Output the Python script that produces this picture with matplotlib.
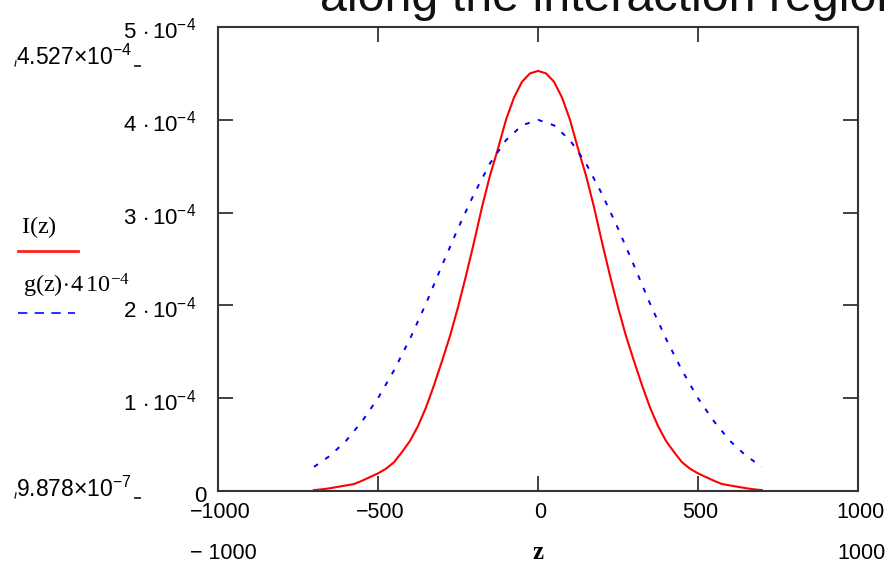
import matplotlib
matplotlib.use("Agg")
import matplotlib.pyplot as plt
from matplotlib.lines import Line2D

# ---------------- data ----------------
z_red = [-700, -675, -650, -625, -600, -575, -550, -525, -500, -475, -450, -425, -400, -375,
         -350, -325, -300, -275, -250, -225, -200, -175, -150, -125, -100, -75, -50, -25, 0,
         25, 50, 75, 100, 125, 150, 175, 200, 225, 250, 275, 300, 325, 350, 375, 400, 425,
         450, 475, 500, 525, 550, 575, 600, 625, 650, 675, 700]
I_vals = [0.0099e-4, 0.018e-4, 0.03e-4, 0.045e-4, 0.06e-4, 0.075e-4, 0.11e-4, 0.15e-4, 0.19e-4,
          0.24e-4, 0.31e-4, 0.42e-4, 0.54e-4, 0.70e-4, 0.90e-4, 1.14e-4, 1.40e-4, 1.67e-4,
          1.98e-4, 2.32e-4, 2.68e-4, 3.06e-4, 3.40e-4, 3.69e-4, 4.00e-4, 4.24e-4, 4.41e-4,
          4.50e-4, 4.527e-4,
          4.50e-4, 4.41e-4, 4.24e-4, 4.00e-4, 3.69e-4, 3.40e-4, 3.06e-4, 2.68e-4, 2.32e-4,
          1.98e-4, 1.67e-4, 1.40e-4, 1.14e-4, 0.90e-4, 0.70e-4, 0.54e-4, 0.42e-4, 0.31e-4,
          0.24e-4, 0.19e-4, 0.15e-4, 0.11e-4, 0.075e-4, 0.06e-4, 0.045e-4, 0.03e-4, 0.018e-4,
          0.0099e-4]

z_blue = [-700, -650, -600, -550, -500, -450, -400, -350, -300, -250, -200, -150, -100, -50, 0,
          50, 100, 150, 200, 250, 300, 350, 400, 450, 500, 550, 600, 650, 700]
g_vals = [0.26e-4, 0.38e-4, 0.54e-4, 0.75e-4, 1.00e-4, 1.30e-4, 1.64e-4, 2.02e-4, 2.43e-4,
          2.83e-4, 3.20e-4, 3.53e-4, 3.78e-4, 3.94e-4, 4.00e-4,
          3.94e-4, 3.78e-4, 3.53e-4, 3.20e-4, 2.83e-4, 2.43e-4, 2.02e-4, 1.64e-4, 1.30e-4,
          1.00e-4, 0.75e-4, 0.54e-4, 0.38e-4, 0.26e-4]

x_ticks = [-1000, -500, 0, 500, 1000]
x_tick_labels = ["\u22121000", "\u2212500", "0", "500", "1000"]
y_ticks = [1e-4, 2e-4, 3e-4, 4e-4, 5e-4]
y_tick_labels = [r"$1\,\cdot10^{-4}$", r"$2\,\cdot10^{-4}$", r"$3\,\cdot10^{-4}$",
                 r"$4\,\cdot10^{-4}$", r"$5\,\cdot10^{-4}$"]

# ---------------- style ----------------
plt.rcParams["mathtext.fontset"] = "custom"
plt.rcParams["mathtext.rm"] = "Liberation Sans"
plt.rcParams["mathtext.it"] = "Liberation Sans:italic"
plt.rcParams["mathtext.sf"] = "Liberation Serif"
plt.rcParams["font.family"] = ["Liberation Sans", "DejaVu Sans"]

W, H = 888, 563
fig = plt.figure(figsize=(W / 100, H / 100), dpi=100)
fig.patch.set_facecolor("white")

L, R, T, B = 218, 858, 27, 491
ax = fig.add_axes([L / W, 1 - B / H, (R - L) / W, (B - T) / H])

ax.plot(z_red, I_vals, color="#ff0000", lw=1.5)
ax.plot(z_blue, g_vals, color="#0000ff", lw=1.4, linestyle=(0, (2.5, 4.5)))

ax.set_xlim(-1000, 1000)
ax.set_ylim(0, 5e-4)
spine_c = "#333333"
for s in ax.spines.values():
    s.set_color(spine_c)
    s.set_linewidth(1.5)
ax.set_xticks([-500, 0, 500])
ax.set_yticks([1e-4, 2e-4, 3e-4, 4e-4])
ax.tick_params(direction="in", length=11, width=1.3, color=spine_c,
               top=True, right=True, labelbottom=False, labelleft=False)

fs = 16
# y tick labels
for v, lab in zip(y_ticks, y_tick_labels):
    ax.annotate(lab, xy=(0, v), xycoords=("axes fraction", "data"),
                xytext=(196 - L, -12), textcoords="offset pixels",
                ha="right", va="baseline", fontsize=fs, annotation_clip=False)
ax.annotate("0", xy=(0, 0), xycoords=("axes fraction", "data"),
            xytext=(206 - L, -11), textcoords="offset pixels",
            ha="right", va="baseline", fontsize=fs, annotation_clip=False)

# x tick labels
for v, lab in zip(x_ticks, x_tick_labels):
    ax.annotate(lab, xy=(v, 0), xycoords=("data", "axes fraction"),
                xytext=(2, -27), textcoords="offset pixels",
                ha="center", va="baseline", fontsize=fs - 0.5, annotation_clip=False)


def P(x, y):
    return (x / W, 1 - y / H)


# second row (axis limits + variable name)
fig.text(*P(190, 559), "\u2212 1000", fontsize=fs - 0.5, ha="left", va="baseline")
fig.text(*P(886, 559), "1000", fontsize=fs - 0.5, ha="right", va="baseline")
fig.text(*P(538, 559), "z", fontsize=fs + 2, ha="center", va="baseline",
         family="Liberation Serif", fontweight="bold")

# y-axis limit labels
fig.text(*P(16, 65), r"$4.527{\times}10^{-4}$", fontsize=fs + 0.5, ha="left", va="baseline")
fig.text(*P(16, 497), r"$9.878{\times}10^{-7}$", fontsize=fs + 0.5, ha="left", va="baseline")
for yy in (65, 497):
    fig.add_artist(Line2D([16 / W, 15 / W], [1 - (yy - 4) / H, 1 - (yy + 1) / H],
                          color="#222222", lw=1.0))
    fig.add_artist(Line2D([135 / W, 140 / W], [1 - (yy + 1) / H, 1 - (yy + 1) / H],
                          color="#222222", lw=1.3))

# legend
fig.text(*P(21, 233), r"$\mathsf{I(z)}$", fontsize=fs + 1.5, ha="left", va="baseline")
fig.add_artist(Line2D([18 / W, 78 / W], [1 - 251 / H, 1 - 251 / H], color="#ff2020", lw=2.0))
fig.text(*P(23, 293), r"$\mathsf{g(z)\!\cdot\!4\,10^{-4}}$", fontsize=fs + 1.5, ha="left",
         va="baseline")
fig.add_artist(Line2D([18 / W, 75 / W], [1 - 313 / H, 1 - 313 / H], color="#3030ff", lw=1.5,
                      linestyle=(0, (4.5, 3.5))))

# partially visible title
fig.text(*P(320, 11), "along the interaction region", fontsize=34.8, ha="left", va="baseline",
         color="#111111")

fig.savefig("out.png", dpi=100, facecolor="white")
